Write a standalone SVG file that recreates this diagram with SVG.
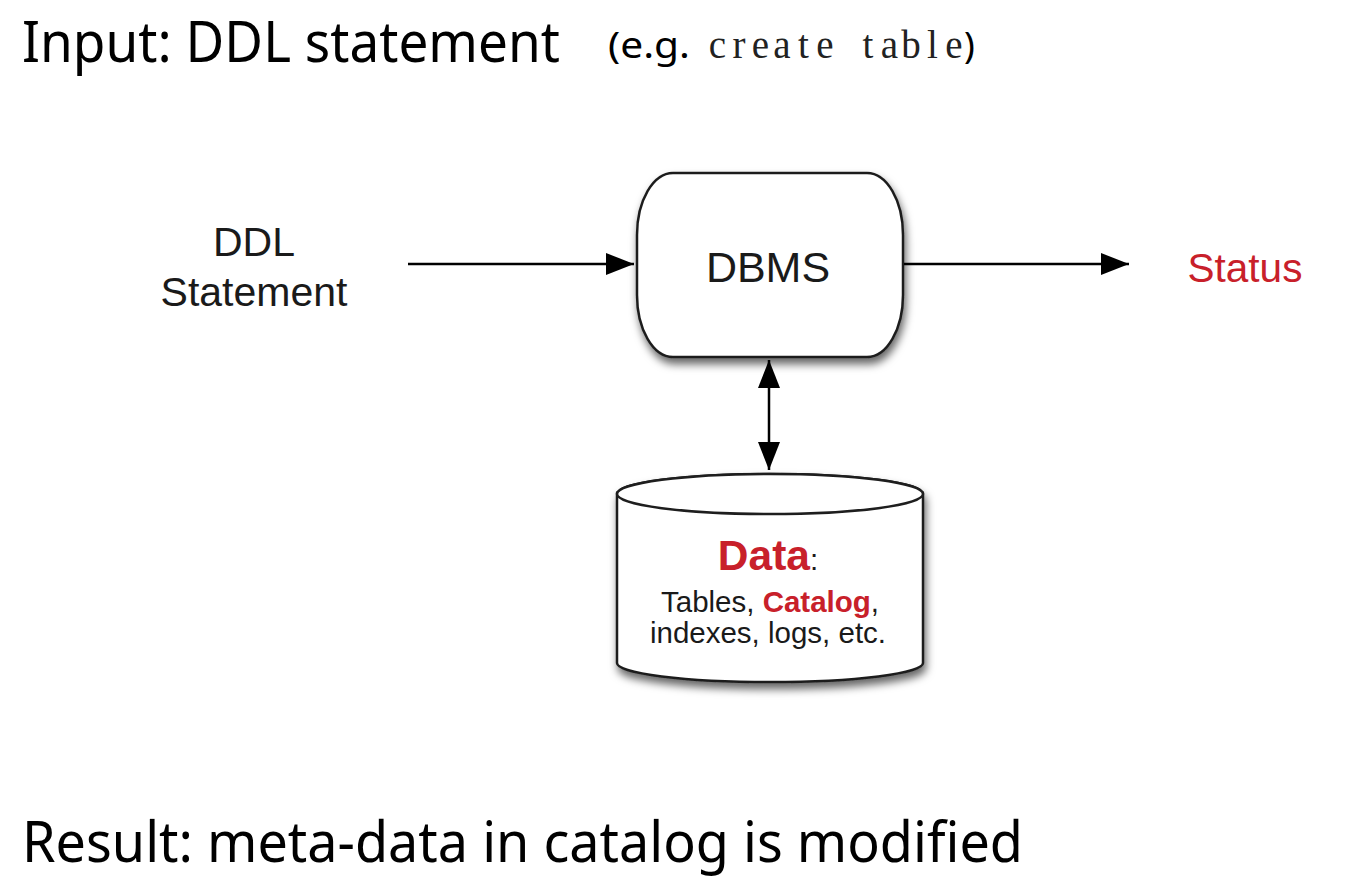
<svg xmlns="http://www.w3.org/2000/svg" width="1349" height="890" viewBox="0 0 1349 890">
  <style>
    .title { font-family: "Noto Sans", "Open Sans", sans-serif; font-size: 56px; fill: #000; }
    .lbl { font-family: "Liberation Sans", Arial, sans-serif; fill: #1a1a1a; }
    .red { fill: #c8202a; }
    .shape { fill: #fff; stroke: #1e1e1e; stroke-width: 2.5; }
    .conn { stroke: #000; stroke-width: 2.5; fill: none; }
  </style>
  <defs>
    <filter id="shadow" x="-10%" y="-10%" width="125%" height="130%">
      <feDropShadow dx="2" dy="6" stdDeviation="4.5" flood-color="#000" flood-opacity="0.6"/>
    </filter>
    <marker id="arrow" viewBox="0 0 28 22" refX="28" refY="11" markerWidth="28" markerHeight="22" markerUnits="userSpaceOnUse" orient="auto-start-reverse">
      <path d="M0,0 L28,11 L0,22 Z" fill="#000"/>
    </marker>
  </defs>
  <rect width="1349" height="890" fill="#fff"/>

  <g id="title">
    <text class="title" x="22" y="62" textLength="538" lengthAdjust="spacingAndGlyphs">Input: DDL statement</text>
    <text x="608" y="58" font-family="Noto Sans, Open Sans, sans-serif" font-size="36" textLength="82" lengthAdjust="spacingAndGlyphs">(e.g.</text>
    <text x="717.5 739 760.5 782 803.5 825 846.5 868 889.5 911 932.5 954" y="58" text-anchor="middle" font-family="Liberation Serif, serif" font-size="39" fill="#222">create table</text>
    <text x="964" y="58" font-family="Noto Sans, Open Sans, sans-serif" font-size="36">)</text>
  </g>

  <g id="ddl-statement">
    <text class="lbl" x="254" y="256" font-size="41" text-anchor="middle">DDL</text>
    <text class="lbl" x="254" y="306" font-size="41" text-anchor="middle">Statement</text>
  </g>

  <g id="dbms">
    <rect class="shape" x="637" y="173" width="266" height="184" rx="36" ry="62" filter="url(#shadow)"/>
    <text class="lbl" x="768" y="282" font-size="43" text-anchor="middle">DBMS</text>
  </g>

  <g id="status">
    <text class="lbl red" x="1245" y="282" font-size="40.5" text-anchor="middle">Status</text>
  </g>

  <g id="data">
    <path class="shape" filter="url(#shadow)" d="M617,494 L617,663 A153,19 0 0 0 923,663 L923,494 A153,20 0 0 0 617,494 Z"/>
    <ellipse class="shape" cx="770" cy="494" rx="153" ry="20"/>
    <text class="lbl" x="768" y="570" text-anchor="middle"><tspan class="red" font-size="42.5" font-weight="bold">Data</tspan><tspan font-size="29.5">:</tspan></text>
    <text class="lbl" x="770" y="612" font-size="29.5" text-anchor="middle">Tables, <tspan class="red" font-weight="bold">Catalog</tspan>,</text>
    <text class="lbl" x="768" y="643" font-size="29.5" text-anchor="middle">indexes, logs, etc.</text>
  </g>

  <g id="connectors">
    <line class="conn" x1="408" y1="264" x2="634" y2="264" marker-end="url(#arrow)"/>
    <line class="conn" x1="904" y1="264" x2="1129" y2="264" marker-end="url(#arrow)"/>
    <line class="conn" x1="769" y1="360" x2="769" y2="470" marker-start="url(#arrow)" marker-end="url(#arrow)"/>
  </g>

  <g id="result">
    <text class="title" x="22" y="862" textLength="1001" lengthAdjust="spacingAndGlyphs">Result: meta-data in catalog is modified</text>
  </g>
</svg>
